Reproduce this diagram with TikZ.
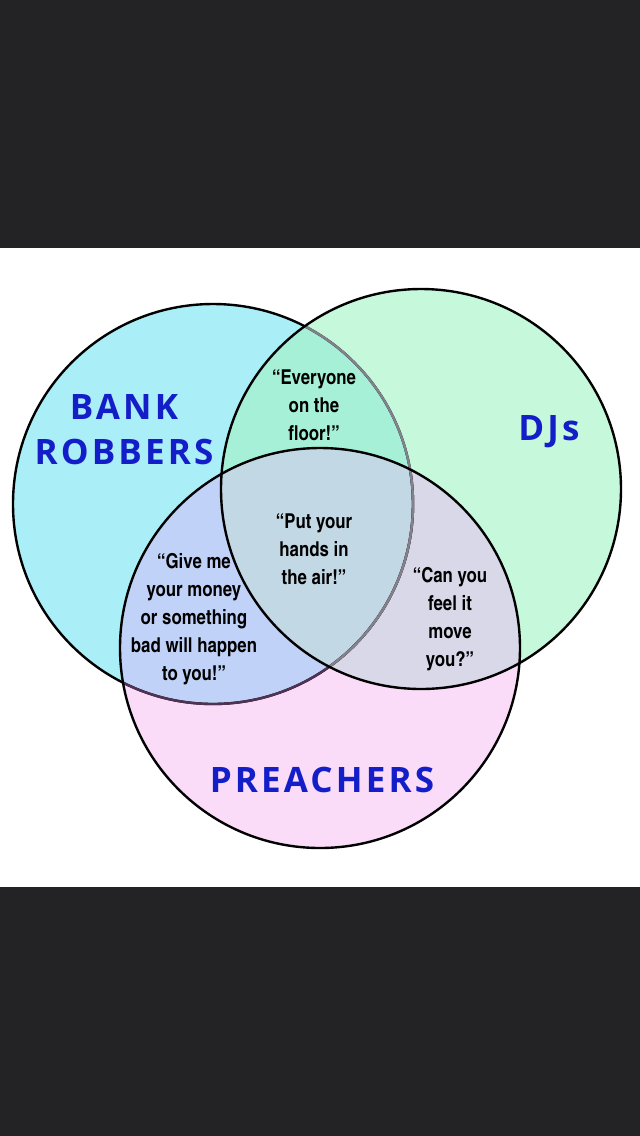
\documentclass[tikz,border=0pt]{standalone}
\usepackage{fontspec}
\usepackage{tikz}
\usetikzlibrary{positioning}
\setmainfont{Open Sans}
\newfontfamily\quotefont{texgyreheroscn}[Extension=.otf, UprightFont=*-regular, BoldFont=*-bold]
\newfontfamily\setfont{Open Sans}[LetterSpace=9]
\definecolor{bgdark}{RGB}{35,35,37}
\definecolor{brfill}{RGB}{170,238,248}
\definecolor{djfill}{RGB}{198,248,220}
\definecolor{prfill}{RGB}{250,220,248}
\definecolor{brdj}{RGB}{166,240,216}
\definecolor{brpr}{RGB}{192,210,248}
\definecolor{djpr}{RGB}{216,216,232}
\definecolor{allfill}{RGB}{194,216,228}
\definecolor{arcgrey}{RGB}{130,130,140}
\definecolor{arcpurple}{RGB}{80,50,85}
\definecolor{labelblue}{RGB}{20,30,200}
\def\rad{200}

\begin{document}
\begin{tikzpicture}[
  x=1pt, y=-1pt,
  ring/.style={line width=2.4pt},
  quote/.style={font=\quotefont\bfseries\fontsize{20.5}{28}\selectfont, align=center, text=black},
  setlabel/.style={font=\setfont\bfseries\fontsize{35}{45}\selectfont, align=center, text=labelblue}
]
\useasboundingbox (0,0) rectangle (640,1136);
\fill[bgdark] (0,0) rectangle (640,248);
\fill[white] (0,248) rectangle (640,887);
\fill[bgdark] (0,887) rectangle (640,1136);

\coordinate (br) at (213,504);
\coordinate (dj) at (421,489);
\coordinate (pr) at (320,648);

% region fills
\fill[brfill] (br) circle[radius=\rad];
\fill[djfill] (dj) circle[radius=\rad];
\fill[prfill] (pr) circle[radius=\rad];
\begin{scope}
  \clip (dj) circle[radius=\rad];
  \fill[djpr] (pr) circle[radius=\rad];
\end{scope}
\begin{scope}
  \clip (br) circle[radius=\rad];
  \fill[brdj] (dj) circle[radius=\rad];
  \fill[brpr] (pr) circle[radius=\rad];
  \clip (dj) circle[radius=\rad];
  \fill[allfill] (pr) circle[radius=\rad];
\end{scope}

% outlines
\draw[ring] (br) circle[radius=\rad];
\begin{scope}
  \clip (pr) circle[radius=\rad];
  \draw[ring, draw=arcpurple] (br) circle[radius=\rad];
\end{scope}
\begin{scope}
  \clip (dj) circle[radius=\rad];
  \draw[ring, draw=arcgrey] (br) circle[radius=\rad];
\end{scope}
\draw[ring] (dj) circle[radius=\rad];
\draw[ring] (pr) circle[radius=\rad];

% labels
\node[setlabel] (bank) at (124,430) {BANK\\ROBBERS};
\node[setlabel] (djs) at (549,432) {DJs};
\node[setlabel] (preach) at (322,780) {PREACHERS};
\node[quote] (floor) at (314,405) {“Everyone\\on the\\floor!”};
\node[quote] (air) at (314,549) {“Put your\\hands in\\the air!”};
\node[quote] (money) at (194,619) {“Give me\\your money\\or something\\bad will happen\\to you!”};
\node[quote] (move) at (450,619) {“Can you\\feel it\\move\\you?”};
\end{tikzpicture}
\end{document}
